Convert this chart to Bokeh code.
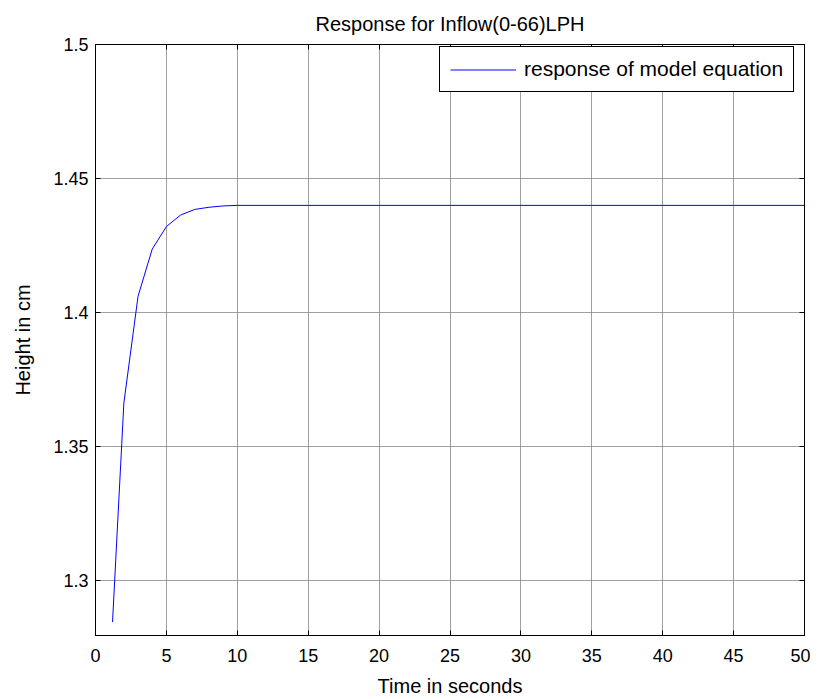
from bokeh.plotting import figure
from bokeh.models import FixedTicker, LinearAxis, Range1d, Legend, LegendItem
from bokeh.embed import file_html
from bokeh.resources import INLINE

# data
time_s = [1.2, 2, 3, 4, 5, 6, 7, 8, 9, 10, 15, 20, 25, 30, 35, 40, 45, 50]
height_cm = [1.2846, 1.3663, 1.4061, 1.4237, 1.4321, 1.4364, 1.4385, 1.4393, 1.4398,
             1.44, 1.44, 1.44, 1.44, 1.44, 1.44, 1.44, 1.44, 1.44]
x_ticks = [0, 5, 10, 15, 20, 25, 30, 35, 40, 45, 50]
y_ticks = [1.3, 1.35, 1.4, 1.45, 1.5]
y_tick_labels = ["1.3", "1.35", "1.4", "1.45", "1.5"]
title_text = "Response for Inflow(0-66)LPH"
legend_label = "response of model equation"

FONT = "Liberation Sans"
W, H = 810, 699
BL, BR, BT, BB = 95, 6, 44, 63

p = figure(width=W, height=H, output_backend="svg", toolbar_location=None,
           x_range=Range1d(0, 50), y_range=Range1d(1.2796, 1.5),
           min_border_left=BL, min_border_right=BR, min_border_top=BT, min_border_bottom=BB,
           title=title_text)
p.title.align = "center"
p.title.text_font = FONT
p.title.text_font_size = "20px"
p.title.text_font_style = "normal"
p.title.text_color = "black"
p.title.offset = 0
p.title.standoff = 20

p.outline_line_color = "black"
p.outline_line_width = 1

line = p.line(time_s, height_cm, line_color="#0000ff", line_width=1)

for ax in (p.xaxis[0], p.yaxis[0]):
    ax.major_tick_in = 5
    ax.major_tick_out = 0
    ax.minor_tick_in = 0
    ax.minor_tick_out = 0
    ax.axis_line_color = "black"
    ax.major_label_text_font = FONT
    ax.major_label_text_font_size = "18px"
    ax.axis_label_text_font = FONT
    ax.axis_label_text_font_size = "20px"
    ax.axis_label_text_font_style = "normal"
    ax.axis_label_text_color = "black"
    ax.major_label_text_color = "black"

p.xaxis[0].ticker = FixedTicker(ticks=x_ticks)
p.yaxis[0].ticker = FixedTicker(ticks=y_ticks)
p.yaxis[0].major_label_overrides = dict(zip(y_ticks, y_tick_labels))
p.xaxis[0].axis_label = "Time in seconds"
p.yaxis[0].axis_label = "Height in cm"
p.xaxis[0].major_label_standoff = 13
p.xaxis[0].axis_label_standoff = 10
p.yaxis[0].major_label_standoff = 7
p.yaxis[0].axis_label_standoff = 16

top = LinearAxis(ticker=FixedTicker(ticks=x_ticks),
                 major_label_overrides={t: "" for t in x_ticks},
                 major_label_text_font_size="1px",
                 major_tick_in=5, major_tick_out=0, minor_tick_in=0, minor_tick_out=0,
                 axis_line_color="black", major_label_standoff=0)
right = LinearAxis(ticker=FixedTicker(ticks=y_ticks),
                   major_label_overrides={t: "" for t in y_ticks},
                   major_label_text_font_size="1px",
                   major_tick_in=5, major_tick_out=0, minor_tick_in=0, minor_tick_out=0,
                   axis_line_color="black", major_label_standoff=0)
p.add_layout(top, "above")
p.add_layout(right, "right")

p.xgrid.ticker = FixedTicker(ticks=x_ticks)
p.ygrid.ticker = FixedTicker(ticks=y_ticks)
for g in (p.xgrid[0], p.ygrid[0]):
    g.grid_line_color = "#808080"
    g.grid_line_alpha = 0.75
    g.grid_line_width = 1

legend = Legend(items=[LegendItem(label=legend_label, renderers=[line])],
                location=(344, 543), border_line_color="black", border_line_width=1,
                border_line_alpha=1.0,
                label_text_font=FONT, label_text_font_size="21px", label_text_color="black",
                glyph_width=66, glyph_height=19, label_height=19,
                label_standoff=8, padding=10, margin=0, spacing=0,
                background_fill_alpha=1.0)
p.add_layout(legend, "center")

open("out.html", "w").write(file_html(p, INLINE))
